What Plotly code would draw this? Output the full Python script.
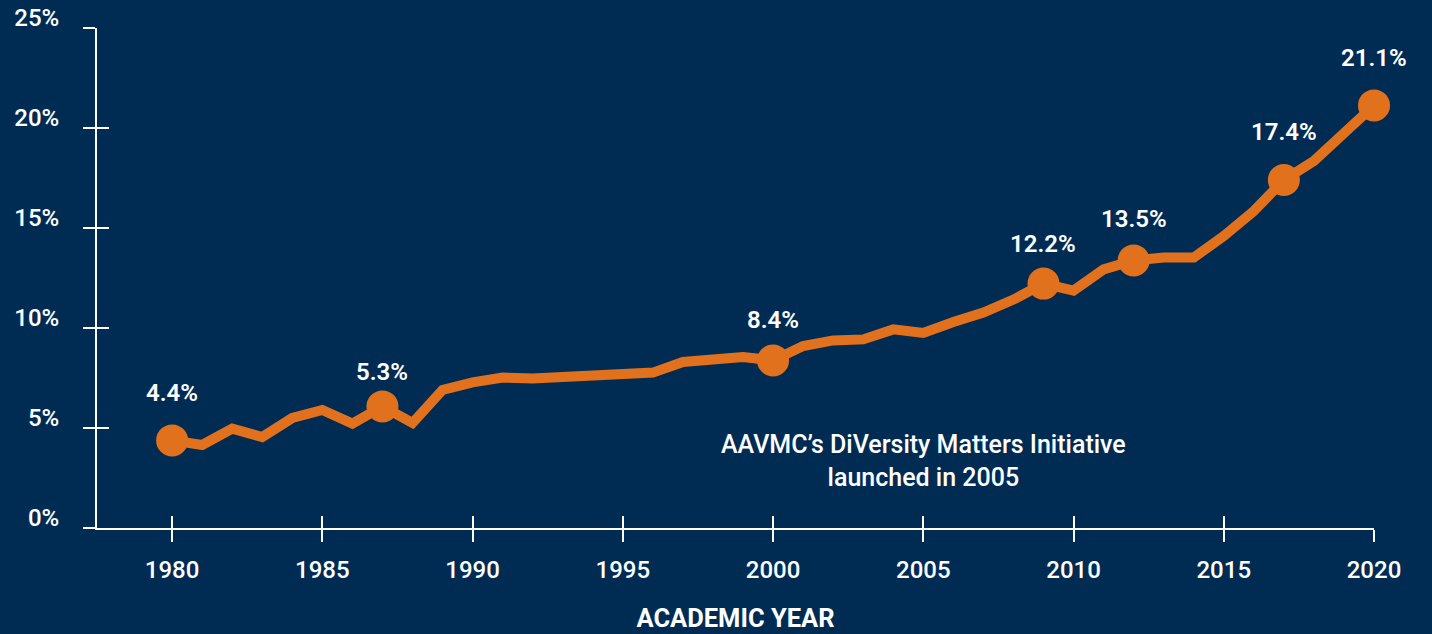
import plotly.graph_objects as go

years = list(range(1980, 2021))
share = [4.38, 4.15, 4.97, 4.55, 5.5, 5.9, 5.22, 6.08, 5.25, 6.9, 7.28, 7.52, 7.47, 7.55,
         7.63, 7.65, 7.77, 8.3, 8.47, 8.55, 8.38, 9.1, 9.38, 9.43, 9.93, 9.75, 10.3, 10.77,
         11.42, 12.22, 11.87, 12.93, 13.38, 13.52, 13.52, 14.6, 15.85, 17.4, 18.35, 19.77, 21.13]

label_years = [1980, 1987, 2000, 2009, 2012, 2017, 2020]
label_texts = ["4.4%", "5.3%", "8.4%", "12.2%", "13.5%", "17.4%", "21.1%"]

x_ticks = [1980, 1985, 1990, 1995, 2000, 2005, 2010, 2015, 2020]
y_ticks = [0, 5, 10, 15, 20, 25]
y_tick_text = ["0%", "5%", "10%", "15%", "20%", "25%"]

note_text = "AAVMC’s DiVersity Matters Initiative<br>launched in 2005"
note_year = 2005
note_value = 3.35
x_title = "ACADEMIC YEAR"

# style: pixel lift of each value label above its marker
label_lift = [47, 34, 40, 40, 41, 48, 47]

BG = "#002c54"
ORANGE = "#e2711d"
WHITE = "#ffffff"
FONT = "Roboto"

label_values = [share[years.index(y)] for y in label_years]

fig = go.Figure()
fig.add_trace(go.Scatter(
    x=years, y=share, mode="lines",
    line=dict(color=ORANGE, width=10),
    hoverinfo="skip", showlegend=False, cliponaxis=False,
))
fig.add_trace(go.Scatter(
    x=label_years, y=label_values, mode="markers",
    marker=dict(color=ORANGE, size=32, line=dict(width=0)),
    hoverinfo="skip", showlegend=False, cliponaxis=False,
))
# invisible helper trace to carry the overlay axes (crossing ticks)
fig.add_trace(go.Scatter(
    x=years, y=share, mode="lines", xaxis="x2", yaxis="y2",
    line=dict(color="rgba(0,0,0,0)", width=0),
    hoverinfo="skip", showlegend=False,
))

for yr, val, txt, lift in zip(label_years, label_values, label_texts, label_lift):
    fig.add_annotation(
        x=yr, y=val, text=txt, showarrow=False,
        yshift=lift, font=dict(family=FONT, size=24, color=WHITE, weight=600),
    )

fig.add_annotation(
    x=note_year, y=note_value, text=note_text, showarrow=False,
    font=dict(family=FONT, size=25, color=WHITE, weight=500),
    align="center", yanchor="middle",
)

x_range = [1977.5, 2020]
y_range = [0, 25]

axis_common = dict(showgrid=False, zeroline=False, showline=True, automargin=False,
                   linecolor=WHITE, linewidth=2, tickcolor=WHITE, tickwidth=2, ticklen=12)

fig.update_layout(
    width=1432, height=634,
    paper_bgcolor=BG, plot_bgcolor=BG,
    margin=dict(l=97, r=58, t=28, b=106),
    xaxis=dict(range=x_range, tickvals=x_ticks, ticks="outside",
               tickfont=dict(family=FONT, size=24, color=WHITE, weight=500),
               ticklabelstandoff=7,
               title=dict(text=x_title, font=dict(family=FONT, size=25.5, color=WHITE, weight=700),
                          standoff=26),
               **axis_common),
    yaxis=dict(range=y_range, tickvals=y_ticks, ticktext=y_tick_text, ticks="outside",
               tickfont=dict(family=FONT, size=24, color=WHITE, weight=500),
               ticklabelstandoff=19, ticklabelshift=-10,
               **axis_common),
    xaxis2=dict(range=x_range, tickvals=x_ticks, ticks="inside", overlaying="x",
                anchor="y2", side="bottom", showticklabels=False, **axis_common),
    yaxis2=dict(range=y_range, tickvals=y_ticks, ticks="inside", overlaying="y",
                anchor="x2", side="left", showticklabels=False, **axis_common),
    showlegend=False,
)

fig.write_html("out.html", config={"displayModeBar": False},
               post_script="document.body.style.margin='0';document.body.style.overflow='hidden';")
